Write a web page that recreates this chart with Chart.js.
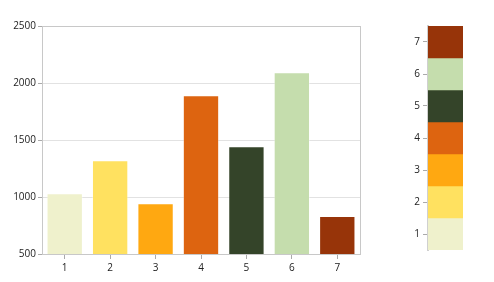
<!DOCTYPE html>
<html>
<head>
<meta charset="utf-8">
<script src="https://cdn.jsdelivr.net/npm/chart.js@4/dist/chart.umd.min.js"></script>
<style>
  html, body { margin: 0; padding: 0; background: #fff; }
  #main { position: absolute; left: 0; top: 0; }
  #scale { position: absolute; left: 400px; top: 0; }
</style>
</head>
<body>
<div id="main" style="width:370px;height:282px"><canvas id="barChart"></canvas></div>
<div id="scale" style="width:80px;height:282px"><canvas id="colorScale"></canvas></div>
<script>
const categories = ['1', '2', '3', '4', '5', '6', '7'];
const values = [1033, 1322, 945, 1892, 1445, 2094, 833];
const colors = ['#EFF1CC', '#FFE160', '#FFA811', '#DD6410', '#344429', '#C5DDAD', '#973409'];
const yTicks = [500, 1000, 1500, 2000, 2500];

Chart.defaults.font.family = '"Open Sans", "DejaVu Sans", sans-serif';
Chart.defaults.font.size = 10;
Chart.defaults.color = '#222';

// plot frame around the main chart area
const frame = {
    id: 'frame',
    afterDraw(chart) {
        const a = chart.chartArea;
        const ctx = chart.ctx;
        ctx.save();
        ctx.strokeStyle = '#c8c8c8';
        ctx.lineWidth = 1;
        ctx.strokeRect(Math.round(a.left) + 0.5, Math.round(a.top) + 0.5,
            Math.round(a.right - a.left), Math.round(a.bottom - a.top));
        ctx.restore();
    }
};

new Chart(document.getElementById('barChart'), {
    type: 'bar',
    data: {
        labels: categories,
        datasets: [{
            data: values,
            backgroundColor: colors,
            borderColor: 'rgba(255,255,255,0.35)',
            borderWidth: 1,
            categoryPercentage: 0.8,
            barPercentage: 1
        }]
    },
    options: {
        responsive: true,
        maintainAspectRatio: false,
        animation: false,
        layout: { padding: { top: 26, right: 10 } },
        plugins: { legend: { display: false }, tooltip: { enabled: false } },
        scales: {
            x: {
                grid: { offset: false, drawOnChartArea: false, tickLength: 5, color: '#aaa' },
                border: { color: '#c8c8c8' },
                ticks: { padding: 3 },
                afterFit(s) { s.height = 28; }
            },
            y: {
                min: 500,
                max: 2500,
                afterBuildTicks(s) { s.ticks = yTicks.map(v => ({ value: v })); },
                grid: { color: '#e2e2e2', tickLength: 4, tickColor: '#aaa' },
                border: { color: '#c8c8c8' },
                ticks: { padding: 2, callback: v => String(v) },
                afterFit(s) { s.width = 42; }
            }
        }
    },
    plugins: [frame]
});

new Chart(document.getElementById('colorScale'), {
    type: 'bar',
    data: {
        labels: categories,
        datasets: [{
            data: categories.map(() => 1),
            backgroundColor: colors,
            categoryPercentage: 1,
            barPercentage: 1
        }]
    },
    options: {
        indexAxis: 'y',
        responsive: true,
        maintainAspectRatio: false,
        animation: false,
        layout: { padding: { top: 26, bottom: 32, right: 17 } },
        plugins: { legend: { display: false }, tooltip: { enabled: false } },
        scales: {
            x: { display: false, min: 0, max: 1 },
            y: {
                reverse: true,
                grid: { offset: false, drawOnChartArea: false, tickLength: 5, color: '#aaa' },
                border: { color: '#d0d0d0', width: 2 },
                ticks: { padding: 3 },
                afterFit(s) { s.width = 28; }
            }
        }
    }
});
</script>
</body>
</html>
